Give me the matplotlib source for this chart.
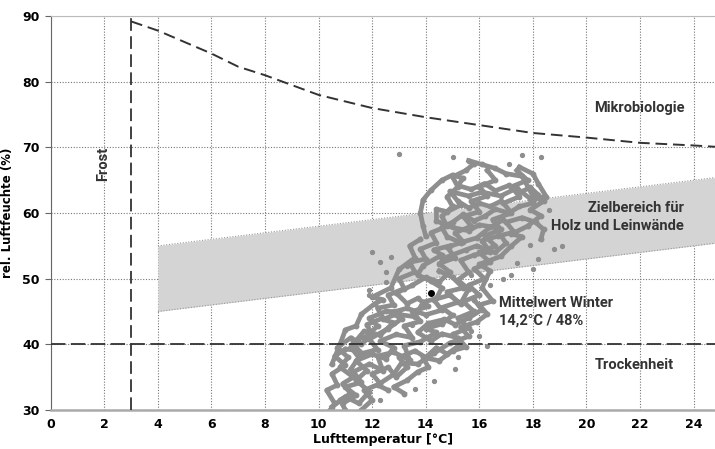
import matplotlib
matplotlib.use("Agg")
import matplotlib.pyplot as plt

# Mikrobiologie-Grenze
MIKRO_T = [3, 4, 6, 7, 8, 10, 12, 14, 16, 18, 20, 22, 24, 24.8]
MIKRO_RH = [89.2, 87.8, 84.3, 82.3, 81.0, 78.0, 76.0, 74.6, 73.4, 72.2, 71.5, 70.7, 70.3, 70.1]

# Zielbereich (untere / obere Grenze)
ZIEL_T = [4, 24.8]
ZIEL_LOW = [45.0, 55.4]
ZIEL_HIGH = [55.0, 65.4]

MEAN_T, MEAN_RH = 14.2, 47.8

# Messverläufe (grob)
TRACKS = [
    [(11.0, 30.0), (10.8, 31.5), (11.2, 32.5), (10.9, 34), (11.3, 35), (10.8, 36.5), (11.1, 38),
     (10.7, 39.5), (11.2, 41), (11.6, 40), (12.0, 41.5), (11.8, 43), (12.4, 44), (12.2, 45.5),
     (12.8, 46), (12.6, 47.5), (13.2, 48.5), (13.0, 50), (13.6, 51), (13.4, 52.5), (14.0, 53),
     (13.8, 54.5), (14.4, 55.5), (14.2, 57), (14.8, 58), (14.6, 59.5), (15.0, 61), (14.8, 62.5),
     (15.2, 64), (15.0, 65.5), (15.5, 66.5), (15.8, 67.5)],
    [(11.6, 30), (12.0, 31.5), (11.7, 33), (12.3, 34), (12.0, 35.5), (12.6, 36.5), (12.9, 35),
     (13.3, 36.5), (13.0, 38), (13.6, 39), (14.0, 38), (14.4, 39.5), (14.8, 38.5), (15.3, 40),
     (15.0, 41.5), (15.6, 42.5), (15.2, 44), (15.8, 45), (15.4, 46.5), (16.0, 47.5), (15.6, 49),
     (16.2, 50), (15.8, 51.5), (16.4, 52.5), (16.0, 54), (16.6, 55), (16.2, 56.5), (16.8, 57.5),
     (16.5, 59), (17.2, 60), (16.9, 61.5), (17.5, 62.5), (17.2, 64), (17.8, 65), (17.4, 66.5)],
    [(10.5, 30.5), (11.0, 32), (11.5, 31), (11.9, 32.8), (11.4, 34.5), (11.8, 36), (11.4, 37.5),
     (12.0, 38.5), (12.5, 37.8), (12.8, 39.5), (12.3, 40.5), (12.9, 41.5), (13.5, 41), (13.2, 42.8),
     (13.8, 43.5), (13.5, 45), (14.1, 45.8), (13.7, 47), (13.3, 46.2), (12.9, 47.8), (13.5, 49),
     (14.0, 50.2), (14.5, 49.5), (14.9, 51), (14.5, 52.3), (15.1, 53.2), (14.8, 54.8), (15.4, 55.6),
     (15.1, 57), (15.7, 58), (15.4, 59.5), (16.0, 60.2), (15.7, 61.8), (16.3, 62.6), (16.0, 64),
     (16.6, 65), (16.3, 66.5)],
    [(11.2, 36.2), (11.6, 38.6), (12.2, 39.2), (11.9, 40.8), (12.6, 42.4), (13.1, 43.9), (12.7, 44.8),
     (13.3, 45.5), (14.0, 44.5), (14.6, 45.2), (14.3, 46.8), (14.9, 47.5), (15.3, 46.2), (15.6, 48.4),
     (15.2, 49.8), (15.6, 51), (15.3, 52.8), (15.8, 53.6), (16.4, 54.1), (16.1, 55.8), (16.7, 56.5),
     (17.3, 57.1), (17.0, 58.6), (17.6, 59.3), (18.1, 58.6), (18.4, 57.5), (18.3, 56)],
    [(14.0, 56.5), (13.9, 58), (13.8, 60), (13.9, 62), (14.2, 63.5), (14.6, 65), (15.0, 65.8),
     (15.4, 65.3), (15.2, 64.2), (15.7, 63.6), (16.2, 64.5), (16.6, 63.4), (17.1, 64.2), (17.5, 63.1),
     (17.9, 63.9), (18.2, 62.8), (18.0, 61.5), (17.5, 61), (17.1, 60), (16.6, 60.6), (16.2, 59.5),
     (15.8, 58.8), (15.4, 59.8), (15.0, 58.6), (14.6, 57.8), (14.8, 56.4), (15.3, 55.5), (15.9, 56.2),
     (16.4, 57.8), (16.9, 59)],
    [(13.2, 32.5), (12.8, 33.5), (13.3, 34.5), (13.7, 35.8), (14.1, 36.5), (13.9, 38), (14.5, 37.5),
     (15.0, 39.0), (15.5, 39.6), (15.2, 41), (14.6, 41.6), (14.2, 40.5), (13.7, 41.8), (14.1, 43.2),
     (14.7, 43.8), (15.1, 43.0), (15.6, 44), (16.1, 45.3), (15.8, 46.8)],
    [(10.4, 29.8), (10.6, 31), (10.3, 33), (10.7, 33.8), (10.5, 35.5), (11.0, 36.8), (10.6, 38.2),
     (11.0, 39.3), (11.5, 39.0), (11.3, 40.5), (11.8, 41.2), (12.2, 42.8), (11.9, 44), (12.5, 45),
     (13.0, 45.0)],
    [(10.9, 31), (11.4, 32.2), (11.0, 33.5), (11.6, 34.2), (11.3, 35.8), (11.9, 37), (12.4, 36),
     (12.2, 38.2), (12.8, 38.8), (13.4, 37.6), (13.2, 39.8), (13.8, 40.4), (14.4, 41.8), (14.0, 42.4),
     (14.6, 43.1), (15.0, 44.4), (14.6, 45.6), (15.2, 46.4), (14.8, 48.0), (15.4, 48.6), (15.0, 50.2),
     (14.5, 51.2)],
    [(11.5, 38.0), (11.2, 39.6), (11.7, 42.0), (12.3, 41.4), (12.8, 43.3), (12.4, 43.8), (12.9, 44.6),
     (13.6, 44.2), (13.9, 46.4), (14.4, 47.0), (14.6, 48.6), (14.2, 49.6), (13.7, 50.6), (13.9, 52.0),
     (14.6, 53.6), (14.3, 54.4), (14.9, 55.0)],
    [(12.6, 33.0), (12.2, 33.8), (12.8, 35.4), (13.1, 37.2), (13.7, 37.0), (14.3, 38.6), (14.9, 40.2),
     (15.6, 41.2), (15.3, 42.6), (15.9, 43.4), (16.3, 44.6), (16.0, 46.0), (16.5, 46.6), (16.1, 48.6),
     (16.4, 51.2), (16.0, 52.2), (16.8, 53.4), (17.2, 55.0), (17.6, 56.4), (17.2, 56.8), (17.8, 58.0),
     (18.3, 59.6), (17.9, 60.5), (18.4, 61.8), (18.0, 62.6), (17.6, 65.6), (17.0, 66.0), (16.6, 66.8),
     (16.1, 67.4), (15.6, 68.0)],
    [(10.5, 37.0), (10.8, 40.0), (11.0, 42.2), (11.4, 42.8), (11.6, 44.6), (12.1, 46.2), (12.4, 46.8),
     (12.0, 47.2), (12.7, 48.6), (13.0, 51.4), (13.6, 53.2), (13.4, 55.0), (13.8, 56.0)],
    [(16.8, 61.8), (16.4, 61.0), (16.0, 61.5), (15.6, 60.8), (15.2, 61.8), (14.9, 63.3), (15.6, 62.6),
     (16.1, 63.2), (16.8, 62.6), (17.4, 63.8), (17.9, 62.2), (18.5, 62.5), (18.2, 64.5), (18.0, 66.0),
     (17.5, 67.0)],
    [(14.6, 53.0), (15.5, 54.4), (15.9, 55.0), (16.6, 54.0), (17.0, 55.4), (16.6, 57.8), (16.0, 58.2),
     (15.6, 57.3), (15.0, 57.8), (14.4, 58.8), (14.4, 60.6), (14.8, 60.2), (15.3, 61.2)],
]

# einzelne Messpunkte
DOTS_T = [13.0, 15.0, 17.6, 18.3, 17.1, 12.5, 12.3, 13.3, 11.9, 11.9, 12.5, 15.7, 16.4, 17.4,
          18.0, 17.2, 18.2, 18.8, 19.1, 17.9, 16.9, 16.0, 15.7, 16.0, 16.3, 15.1, 14.3, 15.2,
          13.6, 12.3, 13.5, 12.0, 12.7, 18.6]
DOTS_RH = [69.0, 68.5, 68.8, 68.5, 67.4, 51.0, 52.5, 52.0, 48.3, 47.5, 49.5, 50.5, 49.0, 52.4,
           51.5, 50.6, 53.0, 54.5, 55.0, 55.2, 50.0, 47.5, 42.0, 41.2, 39.8, 36.2, 34.4, 38.0,
           33.2, 31.5, 42.9, 54.0, 53.3, 60.5]

XTICKS = list(range(0, 25, 2))
YTICKS = list(range(30, 91, 10))

NARROW = ["Roboto", "DejaVu Sans"]
GREY = "#8e8e8e"


def main():
    fig = plt.figure(figsize=(7.15, 4.49), dpi=100)
    ax = fig.add_axes([0.071, 0.087, 0.929, 0.877])

    ax.set_xlim(0, 24.8)
    ax.set_ylim(30, 90)
    ax.set_xticks(XTICKS)
    ax.set_yticks(YTICKS)
    ax.grid(True, linestyle=(0, (1, 1.5)), color="#777777", linewidth=0.8, zorder=0)
    ax.set_axisbelow(True)

    # Zielbereich
    ax.fill_between(ZIEL_T, ZIEL_LOW, ZIEL_HIGH, color="#d4d4d4", linewidth=0, zorder=1)
    ax.plot(ZIEL_T, ZIEL_LOW, linestyle=(0, (1, 1.5)), color="#999999", lw=0.8, zorder=1.5)
    ax.plot(ZIEL_T, ZIEL_HIGH, linestyle=(0, (1, 1.5)), color="#999999", lw=0.8, zorder=1.5)

    # Messwerte
    for tr in TRACKS:
        t = [p[0] for p in tr]
        rh = [p[1] for p in tr]
        ax.plot(t, rh, color=GREY, lw=3.4, solid_joinstyle="round", zorder=2)
        ax.plot(t, rh, "o", color=GREY, ms=3.2, zorder=2)
    ax.plot(DOTS_T, DOTS_RH, "o", color=GREY, ms=2.8, lw=0, zorder=2)

    # Grenzlinien
    ax.plot(MIKRO_T, MIKRO_RH, color="#333333", lw=1.4, linestyle=(0, (6, 3)), zorder=3)
    ax.axvline(3, color="#333333", lw=1.3, linestyle=(0, (7, 3)), zorder=3)
    ax.axhline(40, color="#333333", lw=1.3, linestyle=(0, (8, 3)), zorder=3)

    ax.plot([MEAN_T], [MEAN_RH], "o", color="black", ms=4, zorder=4)

    # Beschriftungen
    tkw = dict(family=NARROW, fontweight="bold", fontsize=10.5, color="#333333")
    ax.text(1.95, 67.5, "Frost", rotation=90, ha="center", va="center", **tkw)
    ax.text(23.65, 76, "Mikrobiologie", ha="right", va="center", **tkw)
    ax.text(23.65, 59.4, "Zielbereich für\nHolz und Leinwände", ha="right", va="center",
            linespacing=1.3, **tkw)
    ax.text(16.75, 45, "Mittelwert Winter\n14,2°C / 48%", ha="left", va="center",
            linespacing=1.3, **tkw)
    ax.text(23.25, 36.9, "Trockenheit", ha="right", va="center", **tkw)

    ax.set_xlabel("Lufttemperatur [°C]", fontsize=9, fontweight="bold", labelpad=1)
    ax.set_ylabel("rel. Luftfeuchte (%)", fontsize=8.5, fontweight="bold", labelpad=6)
    for lab in ax.get_xticklabels() + ax.get_yticklabels():
        lab.set_fontweight("bold")
        lab.set_fontsize(9)
    ax.tick_params(axis="x", length=0, pad=6)
    ax.tick_params(axis="y", length=4, width=0.8, color="#666666", pad=4)

    ax.spines["right"].set_visible(False)
    ax.spines["top"].set_color("#bbbbbb")
    ax.spines["left"].set_color("#666666")
    ax.spines["bottom"].set_color("#aaaaaa")
    ax.spines["bottom"].set_linewidth(1.8)

    fig.savefig("out.png", dpi=100)
    plt.close(fig)


if __name__ == "__main__":
    main()
